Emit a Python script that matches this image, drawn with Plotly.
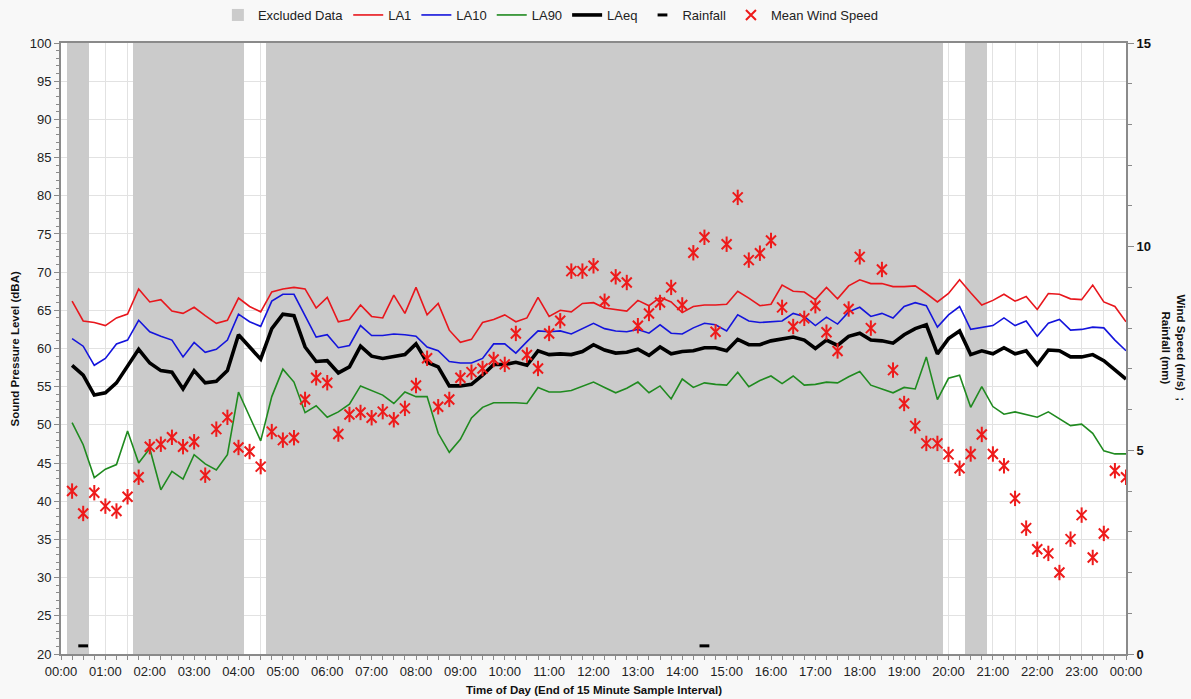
import plotly.graph_objects as go

# End of each 15-minute sample interval, in hours after midnight
interval_end_h = [0.25 * k for k in range(1, 97)]

hour_labels = ["00:00", "01:00", "02:00", "03:00", "04:00", "05:00", "06:00", "07:00",
               "08:00", "09:00", "10:00", "11:00", "12:00", "13:00", "14:00", "15:00",
               "16:00", "17:00", "18:00", "19:00", "20:00", "21:00", "22:00", "23:00", "00:00"]

la1 = [66.2, 63.6, 63.4, 63.0, 64.0, 64.5, 67.8, 66.1, 66.4, 64.9, 64.6, 65.4, 64.3, 63.3, 63.7, 66.6, 65.5, 64.8, 67.4, 67.8, 68.0, 67.8, 65.3, 66.7,
       63.5, 63.8, 65.7, 64.2, 64.0, 67.0, 64.6, 68.0, 64.4, 65.9, 62.4, 60.8, 61.2, 63.4, 63.8, 64.4, 63.5, 64.0, 66.7, 64.2, 65.0, 64.8, 65.9, 66.0,
       65.3, 65.1, 64.9, 66.3, 65.6, 66.7, 66.1, 64.7, 65.5, 65.7, 65.7, 65.8, 67.5, 66.6, 65.6, 65.8, 68.3, 67.5, 67.4, 66.4, 68.0, 66.5, 68.2, 69.0,
       68.5, 68.5, 68.1, 68.1, 68.2, 67.2, 66.1, 67.2, 69.0, 67.3, 65.7, 66.3, 67.1, 66.2, 66.8, 65.1, 67.2, 67.1, 66.5, 66.4, 68.3, 66.1, 65.5, 63.5]

la10 = [61.3, 60.3, 57.8, 58.7, 60.6, 61.1, 63.7, 62.2, 61.6, 61.1, 58.9, 60.8, 59.5, 59.9, 61.1, 64.5, 63.5, 62.9, 66.2, 67.1, 67.1, 64.4, 61.5, 61.8,
        60.1, 60.4, 63.0, 61.7, 61.7, 61.9, 61.8, 61.6, 60.2, 59.7, 58.3, 58.1, 58.1, 58.7, 60.6, 60.6, 59.4, 60.9, 62.3, 62.2, 62.3, 61.9, 62.6, 63.3,
        62.6, 62.3, 62.2, 62.5, 62.0, 63.1, 62.0, 61.9, 62.7, 63.3, 63.1, 62.3, 64.4, 63.6, 63.4, 63.5, 63.6, 64.6, 64.2, 63.0, 64.1, 63.2, 64.8, 65.4,
        64.2, 64.6, 64.0, 65.5, 66.0, 65.6, 62.8, 64.4, 65.5, 62.5, 62.8, 63.0, 64.0, 63.0, 63.6, 61.6, 63.3, 63.8, 62.4, 62.5, 62.8, 62.7, 61.1, 59.7]

la90 = [50.3, 47.4, 43.1, 44.2, 44.8, 49.2, 45.0, 46.9, 41.5, 43.9, 42.9, 46.1, 44.9, 44.1, 46.1, 54.3, 51.1, 47.9, 53.7, 57.3, 55.6, 51.6, 52.5, 51.0,
        51.7, 52.7, 55.1, 54.5, 53.9, 52.8, 54.3, 53.7, 53.7, 48.9, 46.4, 48.1, 50.9, 52.3, 52.9, 52.9, 52.9, 52.8, 54.9, 54.3, 54.3, 54.5, 55.0, 55.6,
        54.9, 54.2, 54.8, 55.6, 54.2, 55.1, 53.4, 56.0, 54.9, 55.5, 55.3, 55.2, 56.9, 55.0, 55.8, 56.4, 55.4, 56.4, 55.2, 55.3, 55.6, 55.5, 56.3, 57.0,
        55.2, 54.7, 54.2, 54.9, 54.7, 58.9, 53.3, 56.1, 56.5, 52.3, 55.0, 52.4, 51.4, 51.7, 51.3, 51.0, 51.7, 50.8, 49.9, 50.1, 48.9, 46.6, 46.2, 46.2]

laeq = [57.8, 56.5, 53.9, 54.2, 55.5, 57.6, 59.9, 58.1, 57.1, 56.9, 54.7, 57.1, 55.5, 55.7, 57.1, 61.8, 60.2, 58.6, 62.6, 64.5, 64.3, 60.2, 58.3, 58.4,
        56.8, 57.6, 60.3, 59.0, 58.7, 59.0, 59.2, 60.6, 58.2, 57.6, 55.1, 55.1, 55.3, 56.5, 57.9, 57.9, 58.2, 57.8, 59.7, 59.2, 59.3, 59.2, 59.6, 60.5,
        59.8, 59.4, 59.5, 59.9, 59.1, 60.2, 59.3, 59.6, 59.7, 60.1, 60.1, 59.7, 61.2, 60.5, 60.5, 61.0, 61.3, 61.5, 61.1, 60.0, 61.1, 60.4, 61.6, 62.0,
        61.1, 61.0, 60.7, 61.8, 62.6, 63.1, 59.3, 61.3, 62.3, 59.2, 59.7, 59.3, 60.1, 59.3, 59.7, 57.9, 59.8, 59.7, 58.9, 58.9, 59.2, 58.4, 57.2, 56.0]

wind_speed = [4.00, 3.45, 3.96, 3.63, 3.51, 3.86, 4.34, 5.09, 5.15, 5.32, 5.09, 5.21, 4.39, 5.52, 5.81, 5.07, 4.97, 4.60, 5.46, 5.25, 5.31, 6.25, 6.78, 6.66,
              5.40, 5.88, 5.93, 5.80, 5.95, 5.75, 6.03, 6.59, 7.26, 6.07, 6.25, 6.78, 6.92, 7.01, 7.23, 7.11, 7.87, 7.34, 7.01, 7.87, 8.18, 9.40, 9.40, 9.53,
              8.66, 9.26, 9.12, 8.06, 8.36, 8.63, 9.00, 8.57, 9.85, 10.23, 7.91, 10.06, 11.21, 9.67, 9.84, 10.15, 8.51, 8.04, 8.24, 8.55, 7.90, 7.44, 8.47, 9.75,
              8.00, 9.44, 6.97, 6.15, 5.60, 5.17, 5.17, 4.90, 4.56, 4.91, 5.39, 4.91, 4.62, 3.82, 3.09, 2.57, 2.47, 2.00, 2.82, 3.41, 2.37, 2.96, 4.50, 4.34]

rainfall_mm = [0, 0.2, 0, 0, 0, 0, 0, 0, 0, 0, 0, 0, 0, 0, 0, 0, 0, 0, 0, 0, 0, 0, 0, 0,
               0, 0, 0, 0, 0, 0, 0, 0, 0, 0, 0, 0, 0, 0, 0, 0, 0, 0, 0, 0, 0, 0, 0, 0,
               0, 0, 0, 0, 0, 0, 0, 0, 0, 0.2, 0, 0, 0, 0, 0, 0, 0, 0, 0, 0, 0, 0, 0, 0,
               0, 0, 0, 0, 0, 0, 0, 0, 0, 0, 0, 0, 0, 0, 0, 0, 0, 0, 0, 0, 0, 0, 0, 0]

# 1 = interval excluded from the assessment
excluded = [1, 1, 0, 0, 0, 0, 1, 1, 1, 1, 1, 1, 1, 1, 1, 1, 0, 0, 1, 1, 1, 1, 1, 1,
            1, 1, 1, 1, 1, 1, 1, 1, 1, 1, 1, 1, 1, 1, 1, 1, 1, 1, 1, 1, 1, 1, 1, 1,
            1, 1, 1, 1, 1, 1, 1, 1, 1, 1, 1, 1, 1, 1, 1, 1, 1, 1, 1, 1, 1, 1, 1, 1,
            1, 1, 1, 1, 1, 1, 1, 0, 0, 1, 1, 0, 0, 0, 0, 0, 0, 0, 0, 0, 0, 0, 0, 0]

SPL_MIN, SPL_MAX = 20, 100
WIND_MIN, WIND_MAX = 0, 15

FONT = "Liberation Sans, Arial, sans-serif"
NARROW = "Liberation Sans Narrow, Liberation Sans, Arial, sans-serif"
AXIS_GREY = "#8a8a8a"
GRID = "#e2e2e2"
WIND_RED = "#ee1a1a"

excl_x = [t for t, f in zip(interval_end_h, excluded) if f]
rain_x = [t for t, r in zip(interval_end_h, rainfall_mm) if r > 0]
rain_y = [r for r in rainfall_mm if r > 0]

fig = go.Figure()

fig.add_trace(go.Bar(
    x=excl_x, y=[SPL_MAX - SPL_MIN] * len(excl_x), base=SPL_MIN, width=0.25,
    marker=dict(color="#cbcbcb", line=dict(width=0)),
    name="Excluded Data", hoverinfo="skip"))

fig.add_trace(go.Scatter(x=interval_end_h, y=la1, mode="lines", name="LA1",
                         line=dict(color="#e8161c", width=1.6)))
fig.add_trace(go.Scatter(x=interval_end_h, y=la10, mode="lines", name="LA10",
                         line=dict(color="#1414dc", width=1.6)))
fig.add_trace(go.Scatter(x=interval_end_h, y=la90, mode="lines", name="LA90",
                         line=dict(color="#1f8a1f", width=1.6)))
fig.add_trace(go.Scatter(x=interval_end_h, y=laeq, mode="lines", name="LAeq",
                         line=dict(color="#000000", width=3.6)))

fig.add_trace(go.Scatter(x=rain_x, y=rain_y, yaxis="y2", mode="markers", name="Rainfall",
                         marker=dict(symbol="line-ew-open", size=7, color="#000000",
                                     line=dict(width=3, color="#000000"))))

# wind speed asterisk: an x plus a vertical stroke
fig.add_trace(go.Scatter(x=interval_end_h, y=wind_speed, yaxis="y2", mode="markers",
                         name="Mean Wind Speed",
                         marker=dict(symbol="x-thin-open", size=10, color=WIND_RED,
                                     line=dict(width=2, color=WIND_RED))))
fig.add_trace(go.Scatter(x=interval_end_h, y=wind_speed, yaxis="y2", mode="markers",
                         showlegend=False, hoverinfo="skip",
                         marker=dict(symbol="line-ns-open", size=11, color=WIND_RED,
                                     line=dict(width=2, color=WIND_RED))))

half_hours = [0.5 * k for k in range(49)]
tick_text = []
for k in range(49):
    tick_text.append(hour_labels[k // 2] if k % 2 == 0 else "")

fig.update_layout(
    width=1191, height=699,
    margin=dict(l=61, r=65, t=43, b=45, autoexpand=False),
    paper_bgcolor="#f8f8f8",
    plot_bgcolor="#ffffff",
    font=dict(family=FONT, size=13, color="#222222"),
    bargap=0,
    showlegend=True,
    legend=dict(orientation="h", x=0.46, xanchor="center",
                yref="container", y=1.0, yanchor="top",
                bgcolor="rgba(0,0,0,0)", font=dict(family=NARROW, size=13, color="#222222"),
                itemwidth=30, traceorder="normal"),
    xaxis=dict(
        range=[0, 24], tickmode="array", tickvals=half_hours, ticktext=tick_text,
        showgrid=True, gridcolor=GRID, gridwidth=1, zeroline=False,
        ticks="outside", ticklen=4, tickcolor=AXIS_GREY,
        showline=True, linecolor=AXIS_GREY, linewidth=2, mirror=True,
        tickfont=dict(size=13, color="#222222"),
        minor=dict(tickmode="linear", tick0=0, dtick=0.25, ticks="outside",
                   ticklen=4, tickcolor=AXIS_GREY, showgrid=False),
    ),
    yaxis=dict(
        range=[SPL_MIN, SPL_MAX], tick0=0, dtick=5,
        showgrid=True, gridcolor=GRID, gridwidth=1, zeroline=False,
        ticks="outside", ticklen=5, tickcolor=AXIS_GREY,
        showline=True, linecolor=AXIS_GREY, linewidth=2,
        tickfont=dict(size=13, color="#222222"),
        minor=dict(tick0=0, dtick=1, ticks="outside", ticklen=3, tickcolor=AXIS_GREY,
                   showgrid=False),
    ),
    yaxis2=dict(
        overlaying="y", side="right", range=[WIND_MIN, WIND_MAX], tick0=0, dtick=5,
        showgrid=False, zeroline=False,
        ticks="outside", ticklen=6, tickcolor=AXIS_GREY,
        showline=True, linecolor=AXIS_GREY, linewidth=2,
        tickfont=dict(size=13, color="#111111", weight="bold"),
        minor=dict(tick0=0, dtick=1, ticks="outside", ticklen=4, tickcolor=AXIS_GREY),
    ),
    annotations=[
        dict(text="<b>Sound Pressure Level (dBA)</b>", textangle=-90,
             xref="paper", yref="paper", x=-0.0432, y=0.5, xanchor="center", yanchor="middle",
             showarrow=False, font=dict(family=FONT, size=11.5, color="#111111")),
        dict(text="<b>Wind Speed (m/s)  ;<br>Rainfall (mm)</b>", textangle=90,
             xref="paper", yref="paper", x=1.045, y=0.5, xanchor="center", yanchor="middle",
             showarrow=False, align="center",
             font=dict(family=FONT, size=11.5, color="#111111")),
        dict(text="<b>Time of Day (End of 15 Minute Sample Interval)</b>",
             xref="paper", yref="paper", x=0.5, y=-0.059, xanchor="center", yanchor="middle",
             showarrow=False, font=dict(family=FONT, size=11.5, color="#111111")),
    ],
)

fig.write_html("out.html")
